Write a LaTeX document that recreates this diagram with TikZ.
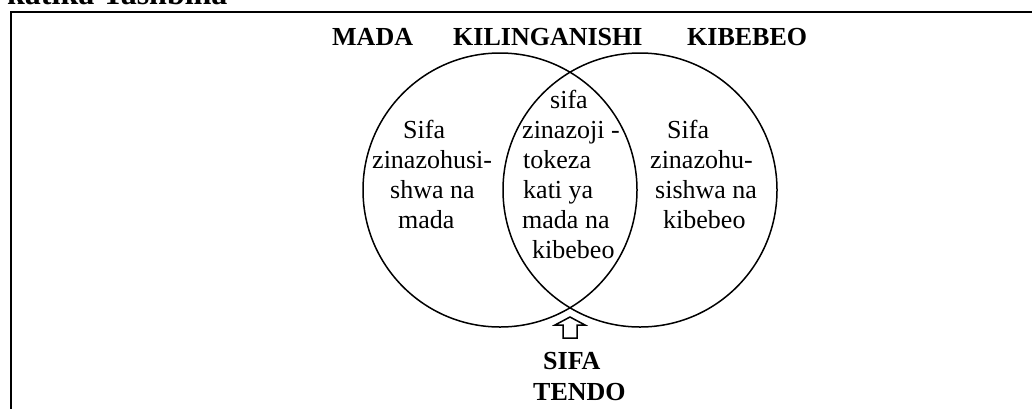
\documentclass[tikz,border=0pt]{standalone}
\usepackage{fontspec}
\setmainfont{Liberation Serif}
\begin{document}
\begin{tikzpicture}[x=1pt,y=-1pt,
  body/.style={anchor=base west,inner sep=0pt,font=\fontsize{26}{30}\selectfont},
  head/.style={anchor=base west,inner sep=0pt,font=\fontsize{26}{30}\selectfont\bfseries},
  ring/.style={draw,line width=1.5pt},
  frame/.style={draw,line width=2pt}]
\useasboundingbox (0,0) rectangle (1032,408);
\clip (0,0) rectangle (1032,408);
% cut-off caption
\node[anchor=base west,inner sep=0pt,font=\fontsize{32}{36}\selectfont\bfseries] (cap) at (7,4) {katika Tashbiha};
% frame
\draw[frame] (10.5,12) rectangle (1060,440);
% circles
\node[ring,circle,minimum size=274pt,inner sep=0pt] (cl) at (500,190) {};
\node[ring,circle,minimum size=274pt,inner sep=0pt] (cr) at (640,190) {};
% headings
\node[head] (hm) at (332,45) {MADA};
\node[head] (hk) at (453,45) {KILINGANISHI};
\node[head] (hb) at (687,45) {KIBEBEO};
% left text
\node[body] (l1) at (403,138) {Sifa};
\node[body] (l2) at (372,168) {zinazohusi-};
\node[body] (l3) at (390,198) {shwa na};
\node[body] (l4) at (398,228) {mada};
% middle text
\node[body] (m1) at (550,108) {sifa};
\node[body] (m2) at (522,138) {zinazoji -};
\node[body] (m3) at (523,168) {tokeza};
\node[body] (m4) at (523,198) {kati ya};
\node[body] (m5) at (522,228) {mada na};
\node[body] (m6) at (532,258) {kibebeo};
% right text
\node[body] (r1) at (667,138) {Sifa};
\node[body] (r2) at (650,168) {zinazohu-};
\node[body] (r3) at (655,198) {sishwa na};
\node[body] (r4) at (663,228) {kibebeo};
% arrow
\draw[line width=1.5pt,line join=miter] (570,317) -- (585,325) -- (577,325) -- (577,338) -- (563,338) -- (563,325) -- (555,325) -- cycle;
% bottom label
\node[head] (s1) at (543,369) {SIFA};
\node[head] (s2) at (533,400) {TENDO};
\end{tikzpicture}
\end{document}
